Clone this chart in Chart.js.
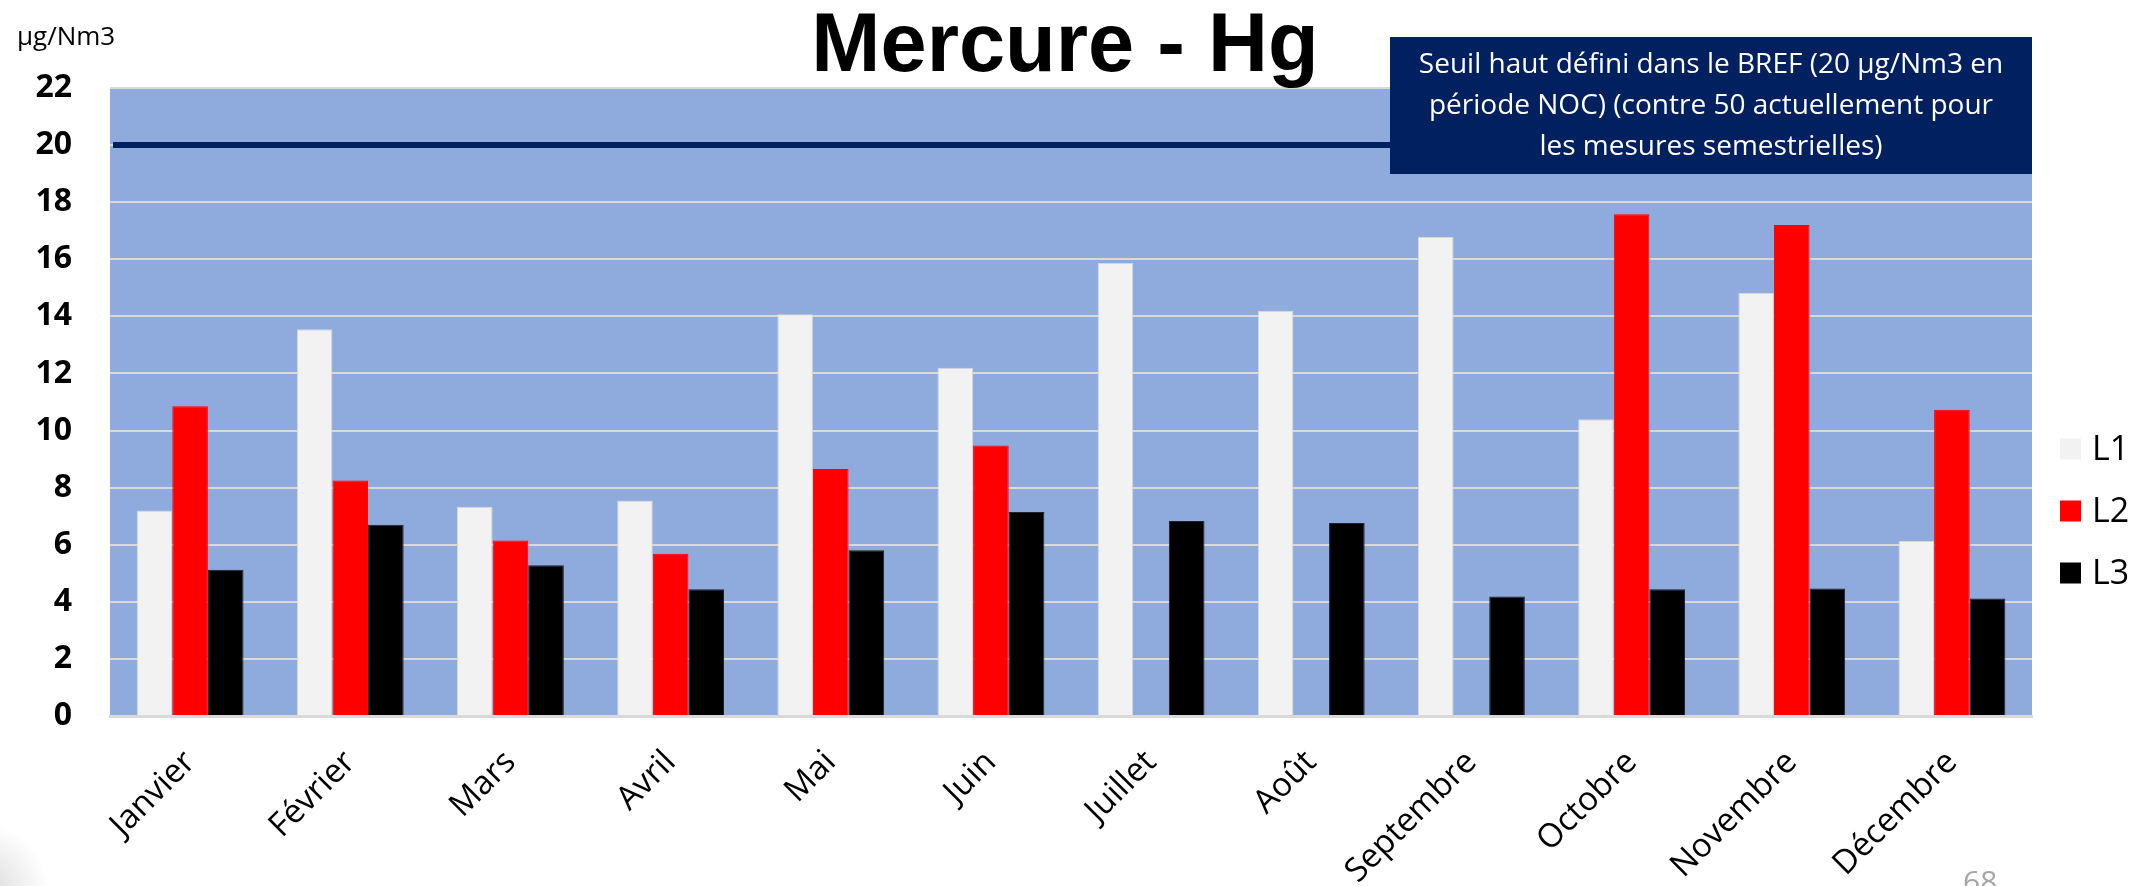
<!DOCTYPE html>
<html lang="fr">
<head>
<meta charset="utf-8">
<title>Mercure - Hg</title>
<script src="https://cdn.jsdelivr.net/npm/chart.js@4/dist/chart.umd.min.js"></script>
<style>
  html, body { margin: 0; padding: 0; background: #ffffff; }
  #cadre { position: relative; width: 2151px; height: 886px; }
</style>
</head>
<body>
<div id="cadre"><canvas id="graphique" width="2151" height="886"></canvas></div>
<script>
// Concentrations mensuelles de mercure (µg/Nm3) par ligne
const mois = ['Janvier', 'Février', 'Mars', 'Avril', 'Mai', 'Juin', 'Juillet', 'Août', 'Septembre', 'Octobre', 'Novembre', 'Décembre'];
const valeursL1 = [7.2, 13.55, 7.33, 7.55, 14.07, 12.2, 15.87, 14.2, 16.78, 10.4, 14.83, 6.13];
const valeursL2 = [10.85, 8.25, 6.15, 5.68, 8.65, 9.48, null, null, null, 17.58, 17.2, 10.73];
const valeursL3 = [5.12, 6.7, 5.28, 4.44, 5.81, 7.15, 6.83, 6.76, 4.19, 4.44, 4.47, 4.12];
const nomsLignes = ['L1', 'L2', 'L3'];
const graduations = [0, 2, 4, 6, 8, 10, 12, 14, 16, 18, 20, 22];
const seuilBref = 20;
const titre = 'Mercure - Hg';
const unite = 'µg/Nm3';
const noteSeuil = [
  'Seuil haut défini dans le BREF (20 µg/Nm3 en',
  'période NOC) (contre 50 actuellement pour',
  'les mesures semestrielles)'
];
const numeroPage = '68';

const POLICE = "'Open Sans', 'Noto Sans', sans-serif";

// Fond du graphique, seuil réglementaire, titre, encadré, légende
const habillage = {
  id: 'habillage',
  beforeDraw(chart) {
    const { ctx, chartArea: a } = chart;
    ctx.save();
    ctx.fillStyle = '#ffffff';
    ctx.fillRect(0, 0, chart.width, chart.height);
    // ombre légère du bord de diapositive
    const g = ctx.createRadialGradient(-25, chart.height + 10, 0, -25, chart.height + 10, 75);
    g.addColorStop(0, 'rgba(160,160,160,0.45)');
    g.addColorStop(1, 'rgba(160,160,160,0)');
    ctx.fillStyle = g;
    ctx.fillRect(0, chart.height - 90, 90, 90);
    ctx.fillStyle = '#8faadc';
    ctx.fillRect(a.left, a.top, a.right - a.left, a.bottom - a.top);
    ctx.restore();
  },
  beforeDatasetsDraw(chart) {
    const { ctx, chartArea: a } = chart;
    const y = chart.scales.y.getPixelForValue(seuilBref);
    ctx.save();
    ctx.strokeStyle = '#002060';
    ctx.lineWidth = 6;
    ctx.beginPath();
    ctx.moveTo(a.left + 3, y);
    ctx.lineTo(a.right, y);
    ctx.stroke();
    ctx.restore();
  },
  afterDraw(chart) {
    const { ctx, chartArea: a } = chart;
    ctx.save();

    // titre
    ctx.fillStyle = '#000000';
    ctx.font = "bold 83px 'Liberation Sans', Arial, sans-serif";
    ctx.textAlign = 'center';
    ctx.textBaseline = 'alphabetic';
    ctx.fillText(titre, 1065, 71);

    // unité
    ctx.font = '26px ' + POLICE;
    ctx.textAlign = 'left';
    ctx.fillText(unite, 17, 45);

    // encadré du seuil
    const bx = 1390, by = 37, bw = a.right - 1390, bh = 137;
    ctx.fillStyle = '#002060';
    ctx.fillRect(bx, by, bw, bh);
    ctx.fillStyle = '#ffffff';
    ctx.font = '28px ' + POLICE;
    ctx.textAlign = 'center';
    ctx.textBaseline = 'middle';
    noteSeuil.forEach((ligne, i) => {
      ctx.fillText(ligne, bx + bw / 2, 65 + i * 41);
    });

    // légende
    ctx.textAlign = 'left';
    ctx.textBaseline = 'middle';
    ctx.font = '34px ' + POLICE;
    chart.data.datasets.forEach((ds, i) => {
      const cy = 449 + i * 62;
      ctx.fillStyle = ds.backgroundColor;
      ctx.fillRect(2060, cy - 10.5, 21, 21);
      ctx.fillStyle = '#000000';
      ctx.fillText(ds.label, 2092, cy + 1);
    });

    // numéro de page
    ctx.fillStyle = '#a6a6a6';
    ctx.font = '30px ' + POLICE;
    ctx.textBaseline = 'top';
    ctx.fillText(numeroPage, 1963, 868);

    ctx.restore();
  }
};

const couleurs = ['#f2f2f2', '#ff0000', '#000000'];
const bordures = ['#d6d6d6', '#ff0000', '#202030'];
const series = [valeursL1, valeursL2, valeursL3];

new Chart(document.getElementById('graphique'), {
  type: 'bar',
  data: {
    labels: mois,
    datasets: series.map((valeurs, i) => ({
      label: nomsLignes[i],
      data: valeurs,
      backgroundColor: couleurs[i],
      borderColor: bordures[i],
      borderWidth: 1,
      barPercentage: 1.0,
      categoryPercentage: 0.667
    }))
  },
  options: {
    responsive: false,
    animation: false,
    layout: { padding: { top: 88, right: 119, bottom: 0, left: 0 } },
    plugins: {
      legend: { display: false },
      title: { display: false },
      tooltip: { enabled: false }
    },
    scales: {
      x: {
        grid: { display: false },
        border: { display: true, color: '#d9d9d9', width: 3 },
        ticks: {
          color: '#000000',
          font: { family: POLICE, size: 33 },
          minRotation: 45,
          maxRotation: 45,
          autoSkip: false,
          padding: 19
        },
        afterFit(scale) { scale.height = 170; }
      },
      y: {
        min: graduations[0],
        max: graduations[graduations.length - 1],
        grid: { color: '#d9d9d9', lineWidth: 2, drawTicks: false },
        border: { display: false },
        ticks: {
          stepSize: graduations[1] - graduations[0],
          color: '#000000',
          font: { family: POLICE, size: 32, weight: 'bold' },
          padding: 38
        },
        afterFit(scale) { scale.width = 110; }
      }
    }
  },
  plugins: [habillage]
});
</script>
</body>
</html>
